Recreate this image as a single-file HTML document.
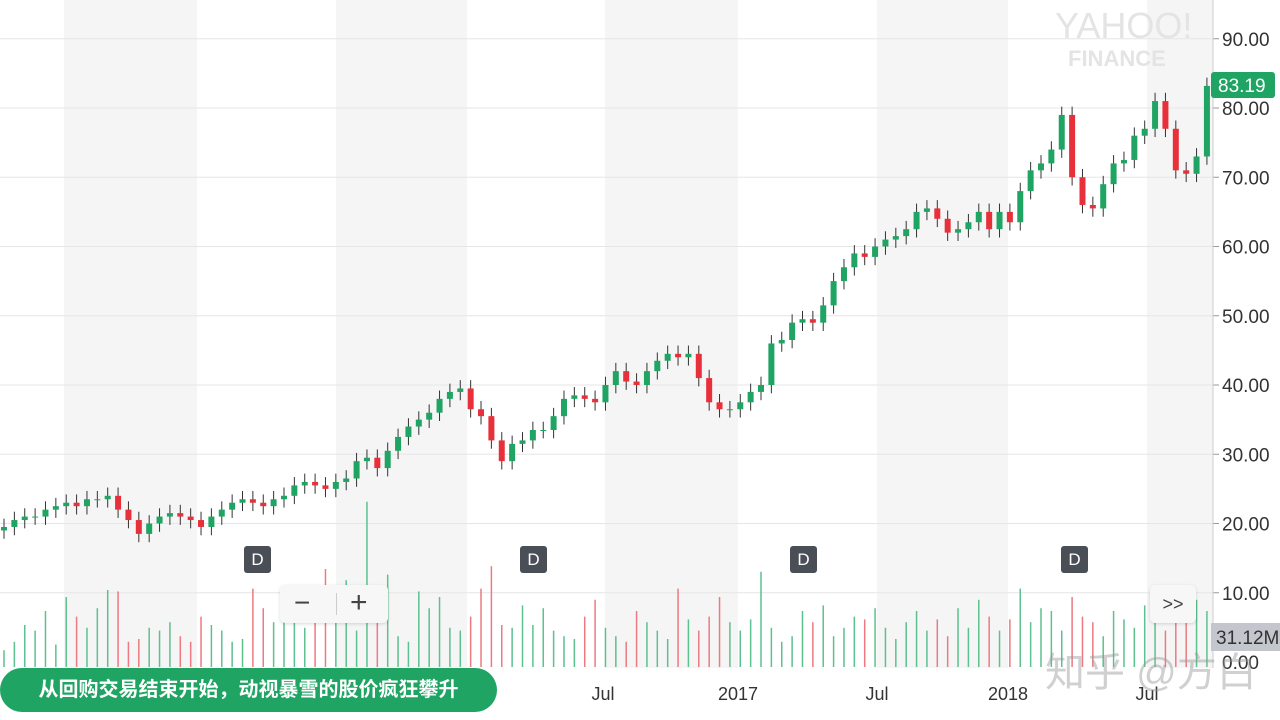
<!DOCTYPE html>
<html><head><meta charset="utf-8"><style>
body{margin:0;width:1280px;height:720px;overflow:hidden;background:#fff;font-family:"Liberation Sans","Noto Sans CJK SC",sans-serif;}
svg{position:absolute;left:0;top:0}
.pill{position:absolute;left:0;top:668px;width:497px;height:44px;border-radius:22px;background:#1fa463;color:#fff;font-size:20px;font-weight:bold;line-height:44px;text-align:center;font-family:"Liberation Sans","Noto Sans CJK SC",sans-serif}
.btn{position:absolute;background:#f7f7f7;border-radius:5px;box-shadow:0 1px 3px rgba(0,0,0,.15);color:#444;text-align:center}
.d{position:absolute;width:27px;height:27px;background:#4a4f57;color:#fff;border-radius:3px;font-size:17px;line-height:27px;text-align:center}
</style></head><body>
<svg id="chart" width="1280" height="720"></svg>
<div class="d" style="left:244px;top:546px">D</div>
<div class="d" style="left:520px;top:546px">D</div>
<div class="d" style="left:790px;top:546px">D</div>
<div class="d" style="left:1061px;top:546px">D</div>
<div class="btn" style="left:280px;top:585px;width:108px;height:38px">
 <span style="position:absolute;left:14px;top:2px;font-size:28px">−</span>
 <span style="position:absolute;left:56px;top:8px;width:1px;height:22px;background:#ccc"></span>
 <span style="position:absolute;left:70px;top:1px;font-size:30px">+</span>
</div>
<div class="btn" style="left:1150px;top:585px;width:46px;height:38px;line-height:38px;font-size:18px">&gt;&gt;</div>
<div class="pill">从回购交易结束开始，动视暴雪的股价疯狂攀升</div>
<div style="position:absolute;left:1045px;top:640px;font-size:40px;color:rgba(150,150,150,.45);font-family:'Liberation Sans','Noto Sans CJK SC',sans-serif">知乎 @方白</div>
<script>
const closes=[19.5,20.5,21,21,22,22.5,23,22.5,23.5,23.5,24,22,20.5,18.5,20,21,21.5,21,20.5,19.5,21,22,23,23.5,23,22.5,23.5,24,25.5,26,25.5,25,26,26.5,29,29.5,28,30.5,32.5,34,35,36,38,39,39.5,36.5,35.5,32,29,31.5,32,33.5,33.5,35.5,38,38.5,38,37.5,40,42,40.5,40,42,43.5,44.5,44,44.5,41,37.5,36.5,36.5,37.5,39,40,46,46.5,49,49.5,49,51.5,55,57,59,58.5,60,61,61.5,62.5,65,65.5,64,62,62.5,63.5,65,62.5,65,63.5,68,71,72,74,79,70,66,65.5,69,72,72.5,76,77,81,77,71,70.5,73,83.19];
const volumes=[12,18,30,26,40,16,50,36,28,42,55,54,18,20,28,26,32,22,18,36,30,26,18,20,56,42,32,40,50,28,54,70,40,62,26,118,42,66,22,18,54,42,50,28,26,36,56,72,30,28,44,30,42,26,22,20,36,48,28,22,18,40,32,26,20,56,34,26,36,50,32,26,34,68,28,18,22,40,32,44,22,28,36,34,42,28,20,32,40,26,34,22,42,28,48,36,26,34,56,32,42,40,26,50,36,32,22,40,34,28,44,36,26,42,34,48,40];
const yTicks=[10,20,30,40,50,60,70,80,90];
const xTicks=[{x:603,t:"Jul"},{x:738,t:"2017"},{x:877,t:"Jul"},{x:1008,t:"2018"},{x:1147,t:"Jul"}];
const bands=[[64,197],[336,467],[605,738],[877,1008],[1147,1213]];
const NS="http://www.w3.org/2000/svg",svg=document.getElementById("chart");
const y=p=>662-6.925*p, x=i=>4+i*10.37, vy=v=>667-v*1.4;
function mk(t,a,p){const e=document.createElementNS(NS,t);for(const k in a)e.setAttribute(k,a[k]);(p||svg).appendChild(e);return e;}
bands.forEach(b=>{const r=mk("rect",{x:b[0],y:0,width:b[1]-b[0],height:668,fill:"#f5f5f5"});

});
yTicks.forEach(v=>{mk("line",{x1:0,x2:1213,y1:y(v),y2:y(v),stroke:"#e6e6e6"});
mk("line",{x1:1213,x2:1219,y1:y(v),y2:y(v),stroke:"#999"});
const t=mk("text",{x:1222,y:y(v)+7,"font-size":19,fill:"#333"});t.textContent=v.toFixed(2);

});
const z=mk("text",{x:1222,y:669,"font-size":19,fill:"#333"});z.textContent="0.00";
const wm=mk("text",{x:1055,y:38,"font-size":36,fill:"#e4e4e4"});wm.textContent="YAHOO!";
const wm2=mk("text",{x:1068,y:66,"font-size":22,fill:"#e4e4e4","font-weight":"bold"});wm2.textContent="FINANCE";
mk("line",{x1:1213,x2:1213,y1:0,y2:668,stroke:"#ccc"});
xTicks.forEach(d=>{const t=mk("text",{x:d.x,y:700,"font-size":18,fill:"#333","text-anchor":"middle"});t.textContent=d.t;

});
closes.forEach((c,i)=>{const o=i?closes[i-1]:c-0.5,up=c>=o,col=up?"#1fa463":"#e8303a",cx=x(i);
const vb=mk("line",{x1:cx,x2:cx,y1:667,y2:vy(volumes[i]),stroke:up?"#5cc08f":"#ec7a80","stroke-width":1.5});


const hi=Math.max(o,c)+1.2,lo=Math.min(o,c)-1.2;
mk("line",{x1:cx,x2:cx,y1:y(hi),y2:y(lo),stroke:"#333","stroke-width":1});
const r=mk("rect",{x:cx-3,y:y(Math.max(o,c)),width:6,height:Math.max(1,6.925*Math.abs(c-o)),fill:col});

});
const pl=mk("rect",{x:1211,y:72,width:64,height:26,rx:3,fill:"#1fa463"});


const pt=mk("text",{x:1218,y:92,"font-size":19,fill:"#fff"});pt.textContent="83.19";
const vl=mk("rect",{x:1211,y:623,width:69,height:28,fill:"#c3c6cc"});


const vt=mk("text",{x:1216,y:644,"font-size":19,fill:"#333"});vt.textContent="31.12M";
</script>
</body></html>
